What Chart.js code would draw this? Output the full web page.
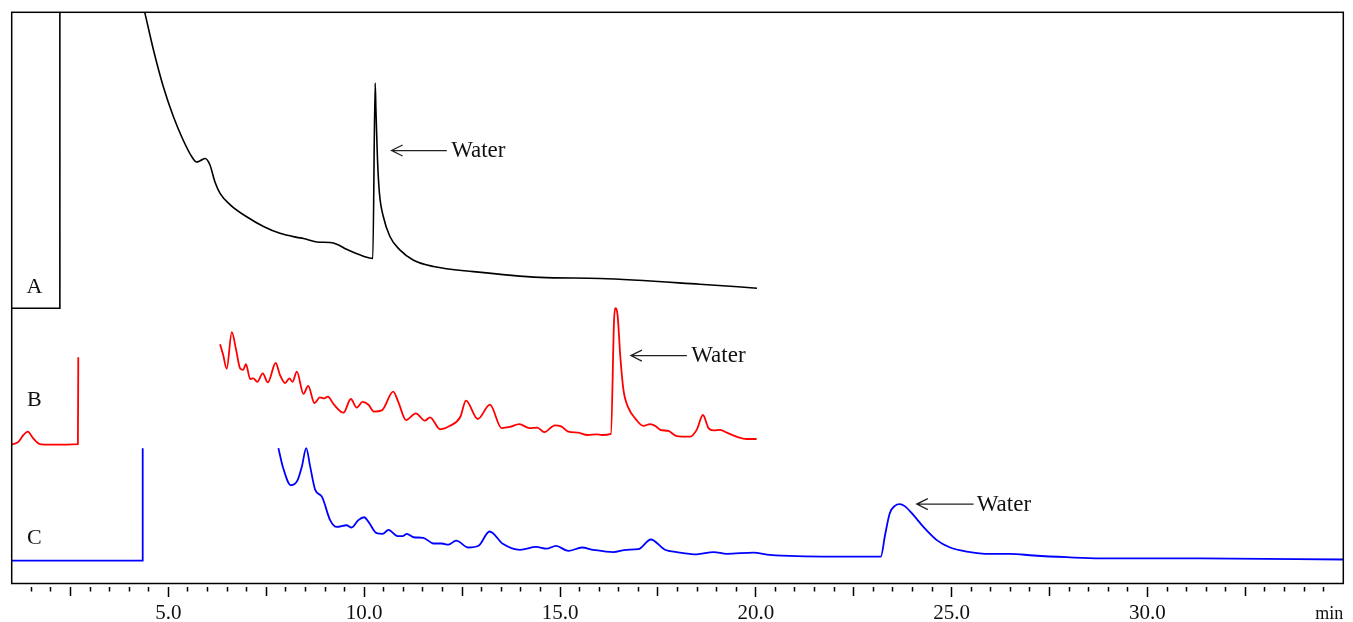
<!DOCTYPE html>
<html><head><meta charset="utf-8">
<script src="https://cdn.jsdelivr.net/npm/chart.js@4/dist/chart.umd.min.js"></script>
<style>html,body{margin:0;padding:0;background:#fff}#wrap{width:1353px;height:622px}</style>
</head><body><div id="wrap"><canvas id="c" width="1353" height="622"></canvas></div>
<script>
// ---- data (retention time in min, detector signal in arbitrary units) ----
const timeA = [1.00, 2.23, 2.23, 4.34, 4.40, 4.62, 4.87, 5.13, 5.38, 5.60, 5.72, 5.81, 5.94, 6.06, 6.19, 6.32, 6.58, 7.00, 7.43, 7.85, 8.28, 8.45, 8.79, 9.13, 9.30, 9.55, 9.98, 10.22, 10.28, 10.30, 10.34, 10.39, 10.49, 10.66, 10.91, 11.26, 11.77, 12.79, 14.49, 16.02, 18.57, 20.03];
const signalA = [48.2, 48.2, 120, 101.6, 99.9, 93.4, 87.0, 81.7, 77.6, 74.7, 73.8, 74.0, 74.4, 73.3, 70.3, 68.3, 66.3, 64.2, 62.5, 61.3, 60.6, 60.4, 59.8, 59.7, 59.4, 58.5, 57.3, 56.9, 87.6, 82.9, 74.2, 68.3, 64.2, 60.7, 58.4, 56.6, 55.5, 54.6, 53.6, 53.4, 52.4, 51.7];

const timeB = [1.00, 1.17, 1.30, 1.41, 1.55, 1.72, 2.00, 2.69, 2.70, 4.50,
  6.32, 6.40, 6.49, 6.62, 6.73, 6.83, 6.91, 6.98, 7.09, 7.17,
  7.27, 7.41, 7.54, 7.74, 7.85, 7.98, 8.09, 8.17, 8.28, 8.45,
  8.57, 8.73, 8.87, 8.98, 9.07, 9.23, 9.47, 9.66, 9.81, 9.96,
  10.11, 10.25, 10.45, 10.74, 10.87, 11.07, 11.32, 11.55, 11.68, 11.94,
  12.19, 12.45, 12.60, 12.90, 13.21, 13.51, 13.72, 13.96, 14.22, 14.42,
  14.60, 14.87, 15.03, 15.21, 15.47, 15.70, 15.94, 16.07, 16.30, 16.38,
  16.41, 16.47, 16.54, 16.62, 16.75, 16.92, 17.13, 17.30, 17.43, 17.56,
  17.77, 17.98, 18.32, 18.49, 18.65, 18.79, 18.92, 19.09, 19.26, 19.51,
  19.77, 20.02];
const signalB = [24.3, 24.8, 26.0, 26.6, 25.4, 24.4, 24.3, 24.4, 39.6, null,
  41.9, 40.0, 37.6, 44.0, 40.9, 37.7, 37.4, 38.4, 35.8, 35.9,
  35.3, 36.8, 35.2, 38.6, 36.5, 35.1, 35.9, 35.3, 37.1, 33.2,
  34.6, 31.6, 32.6, 32.4, 32.7, 31.3, 29.9, 32.3, 30.8, 31.8,
  31.3, 30.1, 30.3, 33.6, 31.8, 28.6, 29.8, 28.5, 29.1, 27.0,
  27.6, 29.1, 32.0, 28.8, 31.3, 27.2, 27.4, 27.9, 27.2, 27.3,
  26.5, 27.7, 27.5, 26.6, 26.4, 26.0, 26.1, 26.0, 26.2, 46.1,
  48.2, 47.0, 39.7, 33.9, 30.7, 28.9, 27.6, 27.9, 27.6, 26.9,
  26.7, 25.8, 25.7, 26.9, 29.5, 27.2, 26.8, 26.9, 26.4, 25.7,
  25.3, 25.3];

const timeC = [1.00, 4.345, 4.345, 6.00,
  7.81, 7.92, 8.13, 8.30, 8.41, 8.52, 8.62, 8.75, 8.92, 9.13,
  9.30, 9.55, 9.68, 9.85, 10.00, 10.11, 10.32, 10.47, 10.62, 10.85,
  10.98, 11.09, 11.26, 11.51, 11.77, 11.98, 12.15, 12.35, 12.66, 12.92,
  13.20, 13.55, 13.98, 14.39, 14.66, 14.90, 15.21, 15.56, 15.85, 16.36,
  16.70, 17.00, 17.32, 17.68, 17.98, 18.49, 18.92, 19.26, 19.94, 20.36,
  21.98, 23.19, 23.30, 23.42, 23.55, 23.67, 23.81, 24.02, 24.28, 24.62,
  24.96, 25.39, 25.98, 26.49, 27.09, 27.94, 28.79, 31.34, 35.00];
const signalC = [4.0, 4.0, 23.7, null,
  23.7, 20.5, 17.2, 18.1, 20.5, 23.7, 20.5, 16.4, 15.2, 11.1,
  9.9, 10.2, 9.8, 11.1, 11.6, 10.8, 8.8, 8.7, 9.4, 8.3,
  8.3, 8.7, 8.1, 8.0, 7.0, 7.0, 6.8, 7.5, 6.3, 6.6,
  9.1, 6.9, 5.9, 6.4, 6.1, 6.6, 5.7, 6.3, 5.9, 5.5,
  5.9, 6.0, 7.7, 5.9, 5.5, 5.1, 5.5, 5.2, 5.4, 5.0,
  4.7, 4.7, 8.5, 12.3, 13.6, 13.9, 13.5, 12.0, 9.9, 7.6,
  6.3, 5.6, 5.2, 5.2, 4.9, 4.6, 4.4, 4.4, 4.2];

const tickLabels = ['5.0', '10.0', '15.0', '20.0', '25.0', '30.0'];
const axisUnit = 'min';
const traceNames = ['A', 'B', 'C'];
const noteText = 'Water';

// ---- annotation anchors (data coordinates) ----
const traceNamePos = [[1.58, 51.8], [1.58, 32.0], [1.58, 7.9]];
const waterNotes = [
  {tip: [10.70, 75.8], tail: 12.11, text: 12.22},
  {tip: [16.81, 39.9], tail: 18.24, text: 18.35},
  {tip: [24.11, 13.9], tail: 25.56, text: 25.64}
];

const SERIF = "'Liberation Serif', 'Times New Roman', serif";
const FONT = {family: SERIF, size: 21, lineHeight: 1};
const toXY = (t, s) => t.map((x, i) => ({x, y: s[i]}));

function tickDash(ctx) {
  const v = ctx.tick ? ctx.tick.value : 0;
  if (v <= 1 || v >= 35) return [0, 100];
  const r5 = Math.abs(v / 5 - Math.round(v / 5)) < 1e-6;
  const r25 = Math.abs(v / 2.5 - Math.round(v / 2.5)) < 1e-6;
  const len = r5 ? 10 : (r25 ? 9 : 4.5);
  return [0, 3, len, 100];
}

const overlay = {
  id: 'overlay',
  afterDatasetsDraw(chart) {
    const {ctx, chartArea: a, scales: {x, y}} = chart;
    ctx.save();
    ctx.strokeStyle = '#000';
    ctx.lineWidth = 1.5;
    ctx.strokeRect(a.left, a.top, a.right - a.left, a.bottom - a.top);
    ctx.fillStyle = '#111';
    ctx.font = `22px ${SERIF}`;
    ctx.textBaseline = 'middle';
    ctx.textAlign = 'center';
    traceNames.forEach((n, i) => {
      ctx.fillText(n, x.getPixelForValue(traceNamePos[i][0]), y.getPixelForValue(traceNamePos[i][1]));
    });
    ctx.strokeStyle = '#222';
    ctx.lineWidth = 1.3;
    ctx.textAlign = 'left';
    ctx.font = `23px ${SERIF}`;
    waterNotes.forEach(n => {
      const tx = x.getPixelForValue(n.tip[0]);
      const ty = y.getPixelForValue(n.tip[1]);
      const ex = x.getPixelForValue(n.tail);
      ctx.beginPath();
      ctx.moveTo(tx, ty); ctx.lineTo(ex, ty);
      ctx.moveTo(tx + 11, ty - 5.5); ctx.lineTo(tx, ty); ctx.lineTo(tx + 11, ty + 5.5);
      ctx.stroke();
      ctx.fillText(noteText, x.getPixelForValue(n.text), ty + 0.5);
    });
    // axis unit at the right end of the tick-label row
    ctx.textAlign = 'right';
    ctx.font = `18px ${SERIF}`;
    ctx.fillText(axisUnit, x.right, x.top + 14 + 5 + FONT.size / 2 + 1.5);
    ctx.restore();
  }
};

new Chart(document.getElementById('c'), {
  type: 'line',
  data: {
    datasets: [
      {label: 'A', data: toXY(timeA, signalA), borderColor: '#000000', borderWidth: 1.6},
      {label: 'B', data: toXY(timeB, signalB), borderColor: '#ff0000', borderWidth: 1.8},
      {label: 'C', data: toXY(timeC, signalC), borderColor: '#0000ff', borderWidth: 1.8}
    ]
  },
  options: {
    responsive: false,
    animation: false,
    devicePixelRatio: 1,
    spanGaps: false,
    elements: {point: {radius: 0, hoverRadius: 0}, line: {cubicInterpolationMode: 'monotone', fill: false}},
    layout: {padding: {top: 12.3, left: 11.7, right: 9.7, bottom: 0}},
    plugins: {legend: {display: false}, tooltip: {enabled: false}},
    events: [],
    scales: {
      x: {
        type: 'linear', min: 1, max: 35, position: 'bottom',
        border: {display: false},
        grid: {display: true, drawOnChartArea: false, drawTicks: true, tickLength: 14,
          tickColor: '#000', tickWidth: 1.5, tickBorderDash: tickDash},
        ticks: {
          stepSize: 0.5, autoSkip: false, maxRotation: 0, minRotation: 0, padding: 5,
          color: '#111', font: FONT,
          callback: (v) => tickLabels.find(l => Math.abs(parseFloat(l) - v) < 1e-6) || ''
        },
        afterFit: (s) => { s.height = 38.5; }
      },
      y: {type: 'linear', min: 0, max: 100, display: false}
    }
  },
  plugins: [overlay]
});
</script>
</body></html>
